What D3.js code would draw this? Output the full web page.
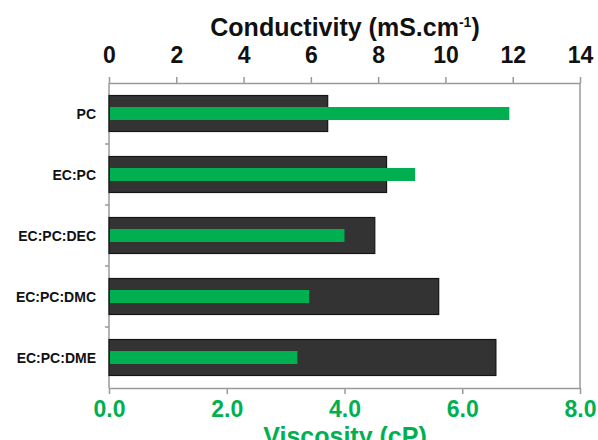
<!DOCTYPE html>
<html>
<head>
<meta charset="utf-8">
<script src="https://cdn.jsdelivr.net/npm/d3@7"></script>
<style>
  body { margin: 0; background: #fff; }
  svg { display: block; font-family: "Liberation Sans", Arial, sans-serif; font-weight: bold; }
  .axis path, .axis line { stroke: #9a9a9a; stroke-width: 1.5; }
</style>
</head>
<body>
<div id="chart"></div>
<script>
// data
var solvents = ["PC", "EC:PC", "EC:PC:DEC", "EC:PC:DMC", "EC:PC:DME"];
var conductivity = [6.5, 8.25, 7.9, 9.8, 11.5];   // mS.cm-1, dark bars, top axis
var viscosity = [6.8, 5.2, 4.0, 3.4, 3.2];        // cP, green bars, bottom axis
var condTicks = [0, 2, 4, 6, 8, 10, 12, 14];
var viscTicks = [0, 2, 4, 6, 8];

var width = 598, height = 440;
var mLeft = 109, mRight = 580, mTop = 83, mBottom = 388;
var green = "#00b050";

var svg = d3.select("#chart").append("svg")
    .attr("width", width)
    .attr("height", height);

var xCond = d3.scaleLinear().domain([0, 14]).range([mLeft, mRight]);
var xVisc = d3.scaleLinear().domain([0, 8]).range([mLeft, mRight]);
var y = d3.scaleBand()
    .domain(solvents)
    .range([mTop, mBottom])
    .paddingInner(0.41)
    .paddingOuter(0.205);

// frame sides
svg.append("line")
    .attr("x1", mLeft).attr("x2", mLeft).attr("y1", mTop).attr("y2", mBottom)
    .attr("stroke", "#9a9a9a").attr("stroke-width", 1.5);
svg.append("line")
    .attr("x1", mRight).attr("x2", mRight).attr("y1", mTop).attr("y2", mBottom)
    .attr("stroke", "#9a9a9a").attr("stroke-width", 1.5);

// category separators on the left axis
svg.append("g").selectAll("line")
    .data(solvents.slice(0, -1))
    .enter().append("line")
    .attr("x1", mLeft - 4).attr("x2", mLeft)
    .attr("y1", d => y(d) + y.bandwidth() + y.step() * y.paddingInner() / 2)
    .attr("y2", d => y(d) + y.bandwidth() + y.step() * y.paddingInner() / 2)
    .attr("stroke", "#9a9a9a").attr("stroke-width", 1.5);

// conductivity bars
svg.append("g").selectAll("rect")
    .data(solvents)
    .enter().append("rect")
    .attr("x", xCond(0))
    .attr("y", d => y(d))
    .attr("width", (d, i) => xCond(conductivity[i]) - xCond(0))
    .attr("height", y.bandwidth())
    .attr("fill", "#333333")
    .attr("stroke", "#151515")
    .attr("stroke-width", 1.2);

// viscosity bars
var gh = 13;
svg.append("g").selectAll("rect")
    .data(solvents)
    .enter().append("rect")
    .attr("x", xVisc(0) + 1)
    .attr("y", d => y(d) + y.bandwidth() / 2 - gh / 2)
    .attr("width", (d, i) => xVisc(viscosity[i]) - xVisc(0) - 1)
    .attr("height", gh)
    .attr("fill", green);

// top axis
var topAxis = svg.append("g")
    .attr("class", "axis")
    .attr("transform", "translate(0," + mTop + ")")
    .call(d3.axisTop(xCond).tickValues(condTicks).tickSize(6).tickSizeOuter(0).tickPadding(14));
topAxis.selectAll("text")
    .attr("fill", "#111")
    .style("font-size", "23px")
    .style("font-weight", "bold");

// bottom axis
var bottomAxis = svg.append("g")
    .attr("class", "axis")
    .attr("transform", "translate(0," + mBottom + ")")
    .call(d3.axisBottom(xVisc).tickValues(viscTicks).tickFormat(d3.format(".1f")).tickSize(6).tickSizeOuter(0).tickPadding(7));
bottomAxis.selectAll("text")
    .attr("fill", green)
    .style("font-size", "23px")
    .style("font-weight", "bold");

// category labels
svg.append("g").selectAll("text")
    .data(solvents)
    .enter().append("text")
    .attr("x", mLeft - 13)
    .attr("y", d => y(d) + y.bandwidth() / 2)
    .attr("dy", "0.36em")
    .attr("text-anchor", "end")
    .attr("fill", "#111")
    .style("font-size", "14px")
    .text(d => d);

// axis titles
var tt = svg.append("text")
    .attr("x", 345)
    .attr("y", 36)
    .attr("text-anchor", "middle")
    .attr("fill", "#111")
    .style("font-size", "25px");
tt.append("tspan").text("Conductivity (mS.cm");
tt.append("tspan").attr("dy", -9).style("font-size", "14px").text("-1");
tt.append("tspan").attr("dy", 9).text(")");

svg.append("text")
    .attr("x", 345)
    .attr("y", 445)
    .attr("text-anchor", "middle")
    .attr("fill", green)
    .style("font-size", "25px")
    .text("Viscosity (cP)");
</script>
</body>
</html>
